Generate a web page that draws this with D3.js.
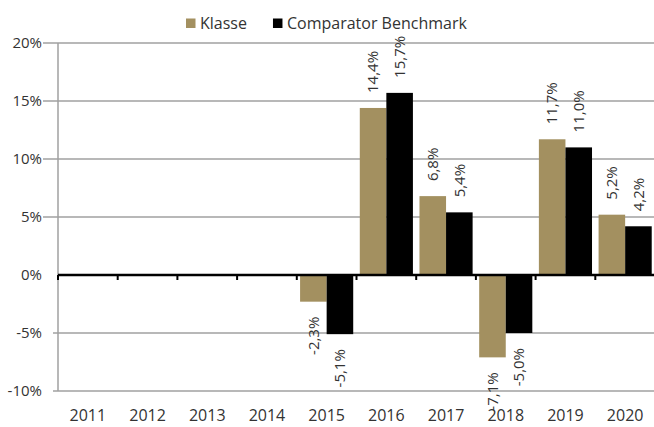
<!DOCTYPE html>
<html>
<head>
<meta charset="utf-8">
<script src="https://cdn.jsdelivr.net/npm/d3@7"></script>
<style>
  body { margin: 0; background: #fff; }
  svg text { font-family: 'Open Sans', sans-serif; fill: #333; }
</style>
</head>
<body>
<svg id="chart" width="654" height="427"></svg>
<script>
// chart data
const years = ['2011', '2012', '2013', '2014', '2015', '2016', '2017', '2018', '2019', '2020'];
const seriesNames = ['Klasse', 'Comparator Benchmark'];
const klasse = [null, null, null, null, -2.3, 14.4, 6.8, -7.1, 11.7, 5.2];
const benchmark = [null, null, null, null, -5.1, 15.7, 5.4, -5.0, 11.0, 4.2];
const yTicks = [-10, -5, 0, 5, 10, 15, 20];
const colors = ['#a39060', '#000000'];

const svg = d3.select('#chart');
const padding = { top: 43, left: 58, right: 0, bottom: 36 };
const width = 655 - padding.left;
const height = 427 - padding.top - padding.bottom;

const x0 = d3.scaleBand()
  .domain(years)
  .range([padding.left, padding.left + width])
  .paddingInner(0.11)
  .paddingOuter(0.055);
const x1 = d3.scaleBand().domain(seriesNames).range([0, x0.bandwidth()]);
const y = d3.scaleLinear().domain([-10, 20]).range([padding.top + height, padding.top]);

// comma decimals, plain hyphen for minus
const fmt = v => d3.format('.1f')(v).replace('.', ',').replace('\u2212', '-') + '%';

// gridlines
const grid = svg.append('g').attr('class', 'grid');
grid.selectAll('line')
  .data(yTicks.filter(d => d !== 0))
  .join('line')
  .attr('x1', d => (d > 0 ? padding.left - 15 : padding.left - 5))
  .attr('x2', 654)
  .attr('y1', d => y(d))
  .attr('y2', d => y(d))
  .attr('stroke', '#a0a0a0')
  .attr('stroke-width', 1.5);

// y axis line
svg.append('line')
  .attr('x1', padding.left).attr('x2', padding.left)
  .attr('y1', y(20)).attr('y2', y(-10))
  .attr('stroke', '#a0a0a0')
  .attr('stroke-width', 1.5);

// y labels
svg.append('g').selectAll('text')
  .data(yTicks)
  .join('text')
  .attr('x', 42)
  .attr('y', d => y(d))
  .attr('dy', '0.35em')
  .attr('text-anchor', 'end')
  .style('font-size', '15px')
  .text(d => d + '%');

// bars
const data = years.map((yr, i) => ({ year: yr, values: [klasse[i], benchmark[i]] }));
const groups = svg.append('g').selectAll('g')
  .data(data)
  .join('g')
  .attr('transform', d => `translate(${x0(d.year)},0)`);

groups.selectAll('rect')
  .data(d => d.values.map((v, j) => ({ v, name: seriesNames[j], j })).filter(e => e.v !== null))
  .join('rect')
  .attr('x', d => x1(d.name))
  .attr('width', x1.bandwidth())
  .attr('y', d => y(Math.max(0, d.v)))
  .attr('height', d => Math.abs(y(d.v) - y(0)))
  .attr('fill', d => colors[d.j]);

// value labels, rotated
groups.selectAll('text')
  .data(d => d.values.map((v, j) => ({ v, name: seriesNames[j] })).filter(e => e.v !== null))
  .join('text')
  .attr('transform', d => {
    const cx = x1(d.name) + x1.bandwidth() / 2;
    const cy = d.v >= 0 ? y(d.v) - 15 : y(d.v) + 15;
    return `translate(${cx},${cy}) rotate(-90)`;
  })
  .attr('text-anchor', d => (d.v >= 0 ? 'start' : 'end'))
  .attr('dy', '0.35em')
  .style('font-size', '15px')
  .text(d => fmt(d.v));

// zero line with ticks
const step = x0.step();
svg.append('line')
  .attr('x1', padding.left).attr('x2', 654)
  .attr('y1', y(0)).attr('y2', y(0))
  .attr('stroke', '#000')
  .attr('stroke-width', 2.5);
svg.append('g').selectAll('line')
  .data(d3.range(years.length + 1))
  .join('line')
  .attr('x1', i => padding.left + i * step)
  .attr('x2', i => padding.left + i * step)
  .attr('y1', y(0))
  .attr('y2', y(0) + 5)
  .attr('stroke', '#000')
  .attr('stroke-width', 2);

// x labels
svg.append('g').selectAll('text')
  .data(years)
  .join('text')
  .attr('x', d => x0(d) + x0.bandwidth() / 2)
  .attr('y', 415)
  .attr('dy', '0.35em')
  .attr('text-anchor', 'middle')
  .style('font-size', '16px')
  .text(d => d);

// legend
const legend = svg.append('g').attr('transform', 'translate(186,23)');
let lx = 0;
seriesNames.forEach((name, i) => {
  const item = legend.append('g').attr('transform', `translate(${lx},0)`);
  item.append('rect')
    .attr('x', 0).attr('y', -4.5)
    .attr('width', 9.5).attr('height', 9.5)
    .attr('fill', colors[i]);
  const t = item.append('text')
    .attr('x', 14)
    .attr('dy', '0.35em')
    .style('font-size', '16px')
    .text(name);
  lx += 14 + t.node().getComputedTextLength() + 26;
});
</script>
</body>
</html>
